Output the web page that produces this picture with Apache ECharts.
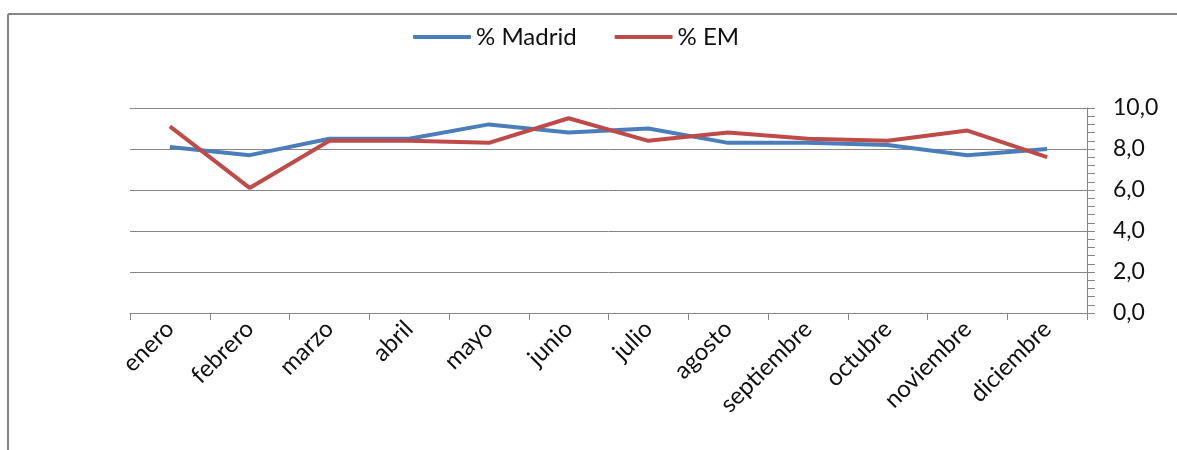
<!DOCTYPE html>
<html>
<head>
<meta charset="utf-8">
<style>
  html, body { margin: 0; padding: 0; background: #fff; }
  #chart { width: 1177px; height: 450px; }
</style>
<script src="https://cdn.jsdelivr.net/npm/echarts@6/dist/echarts.min.js"></script>
</head>
<body>
<div id="chart"></div>
<script>
// Monthly percentages, Madrid vs EM
const months = ['enero', 'febrero', 'marzo', 'abril', 'mayo', 'junio',
                'julio', 'agosto', 'septiembre', 'octubre', 'noviembre', 'diciembre'];
const madrid = [8.1, 7.7, 8.5, 8.5, 9.2, 8.8, 9.0, 8.3, 8.3, 8.2, 7.7, 8.0];
const em     = [9.1, 6.1, 8.4, 8.4, 8.3, 9.5, 8.4, 8.8, 8.5, 8.4, 8.9, 7.6];
const yTicks = [0, 2, 4, 6, 8, 10];

const FONT = 'Lato, "Open Sans", sans-serif';
const AXIS = '#868686';

const chart = echarts.init(document.getElementById('chart'), null, { renderer: 'canvas' });

chart.setOption({
  backgroundColor: '#fff',
  animation: false,
  // chart-area frame: only its top and left edges fall inside the view
  graphic: [
    {
      type: 'line',
      shape: { x1: 8, y1: 14, x2: 1177, y2: 14 },
      style: { stroke: AXIS, lineWidth: 2 },
      silent: true
    },
    {
      type: 'line',
      shape: { x1: 8, y1: 14, x2: 8, y2: 450 },
      style: { stroke: AXIS, lineWidth: 2 },
      silent: true
    }
  ],
  legend: {
    top: 20,
    left: 408,
    itemWidth: 58,
    itemHeight: 4,
    itemGap: 38,
    icon: 'roundRect',
    textStyle: { fontFamily: FONT, fontSize: 24, color: '#111' },
    data: ['% Madrid', '% EM']
  },
  grid: { left: 130, right: 90, top: 108, bottom: 137, containLabel: false },
  xAxis: {
    type: 'category',
    data: months,
    boundaryGap: true,
    axisLine: { lineStyle: { color: AXIS, width: 1 } },
    axisTick: { show: true, length: 7, lineStyle: { color: AXIS } },
    axisLabel: {
      rotate: 45,
      margin: 12,
      interval: 0,
      fontFamily: FONT,
      fontSize: 24,
      color: '#111'
    },
    splitLine: { show: false }
  },
  yAxis: {
    type: 'value',
    position: 'right',
    min: yTicks[0],
    max: yTicks[yTicks.length - 1],
    interval: 2,
    axisLine: { show: true, lineStyle: { color: AXIS, width: 1 } },
    axisTick: { show: true, inside: false, length: 8, lineStyle: { color: AXIS } },
    minorTick: { show: true, splitNumber: 5, length: 8, lineStyle: { color: AXIS } },
    axisLabel: {
      margin: 26,
      fontFamily: FONT,
      fontSize: 23,
      color: '#111',
      formatter: v => v.toFixed(1).replace('.', ',')
    },
    splitLine: { show: true, lineStyle: { color: AXIS, width: 1 } }
  },
  series: [
    {
      name: '% Madrid',
      type: 'line',
      data: madrid,
      symbol: 'none',
      color: '#4A7EBB',
      lineStyle: { width: 4, color: '#4A7EBB' },
      z: 2
    },
    {
      name: '% EM',
      type: 'line',
      data: em,
      symbol: 'none',
      color: '#BE4B48',
      lineStyle: { width: 4, color: '#BE4B48' },
      z: 3
    }
  ]
});
</script>
</body>
</html>
